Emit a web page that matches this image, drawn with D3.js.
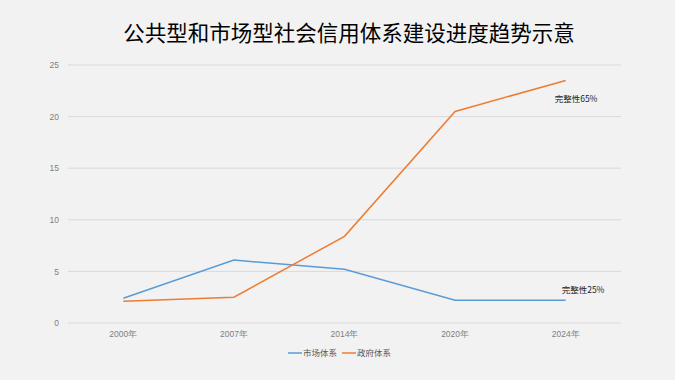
<!DOCTYPE html>
<html>
<head>
<meta charset="utf-8">
<script src="https://cdn.jsdelivr.net/npm/d3@7"></script>
<style>
  body { margin: 0; background: #f2f2f2; }
  svg { display: block; font-family: "Noto Sans CJK SC", "Noto Sans", sans-serif; }
  .tick text { fill: #7f7f7f; font-size: 8.5px; }
</style>
</head>
<body>
<script>
const years = ["2000年", "2007年", "2014年", "2020年", "2024年"];
const marketValues = [2.4, 6.1, 5.2, 2.2, 2.2];
const govValues = [2.1, 2.5, 8.4, 20.5, 23.5];
const yTicks = [0, 5, 10, 15, 20, 25];
const seriesNames = ["市场体系", "政府体系"];
const colors = ["#5b9bd5", "#ed7d31"];

const W = 675, H = 380;
const margin = { top: 65, right: 54, bottom: 57, left: 68 },
    width = W - margin.left - margin.right,
    height = H - margin.top - margin.bottom;

const svg = d3.select("body").append("svg")
    .attr("width", W)
    .attr("height", H);

svg.append("rect").attr("width", W).attr("height", H).attr("fill", "#f2f2f2");

svg.append("text")
    .attr("x", 349)
    .attr("y", 41)
    .attr("text-anchor", "middle")
    .attr("font-size", "21.5px")
    .attr("fill", "#000")
    .text("公共型和市场型社会信用体系建设进度趋势示意");

const g = svg.append("g")
    .attr("transform", "translate(" + margin.left + "," + margin.top + ")");

const x = d3.scaleBand().domain(years).range([0, width]);
const y = d3.scaleLinear().domain([0, 25]).range([height, 0]);

// gridlines
g.append("g")
    .selectAll("line")
    .data(yTicks)
    .enter().append("line")
    .attr("x1", 0).attr("x2", width)
    .attr("y1", d => y(d)).attr("y2", d => y(d))
    .attr("stroke", "#d9d9d9")
    .attr("stroke-width", 1);

const yAxis = g.append("g")
    .call(d3.axisLeft(y).tickValues(yTicks).tickSize(0).tickPadding(9));
yAxis.select(".domain").remove();

const xAxis = g.append("g")
    .attr("transform", "translate(0," + height + ")")
    .call(d3.axisBottom(x).tickSize(0).tickPadding(8));
xAxis.select(".domain").remove();

const line = d3.line()
    .x((d, i) => x(years[i]) + x.bandwidth() / 2)
    .y(d => y(d));

[marketValues, govValues].forEach((vals, k) => {
    g.append("path")
        .datum(vals)
        .attr("fill", "none")
        .attr("stroke", colors[k])
        .attr("stroke-width", 1.5)
        .attr("d", line);
});

// annotations
g.append("text")
    .attr("x", x(years[4]) + x.bandwidth() / 2 - 11)
    .attr("y", y(govValues[4]) + 22)
    .attr("font-size", "8.5px").attr("fill", "#222")
    .text("完整性65%");
g.append("text")
    .attr("x", x(years[4]) + x.bandwidth() / 2 - 4)
    .attr("y", y(marketValues[4]) - 7)
    .attr("font-size", "8.5px").attr("fill", "#222")
    .text("完整性25%");

// legend
const legend = svg.append("g").attr("transform", "translate(288,353)");
const items = legend.selectAll("g")
    .data(seriesNames)
    .enter().append("g")
    .attr("transform", (d, i) => "translate(" + (i * 54) + ",0)");
items.append("line")
    .attr("x1", 0).attr("x2", 14)
    .attr("stroke", (d, i) => colors[i])
    .attr("stroke-width", 1.5);
items.append("text")
    .attr("x", 15)
    .attr("y", 3)
    .attr("font-size", "8.5px")
    .attr("fill", "#595959")
    .text(d => d);
</script>
</body>
</html>
